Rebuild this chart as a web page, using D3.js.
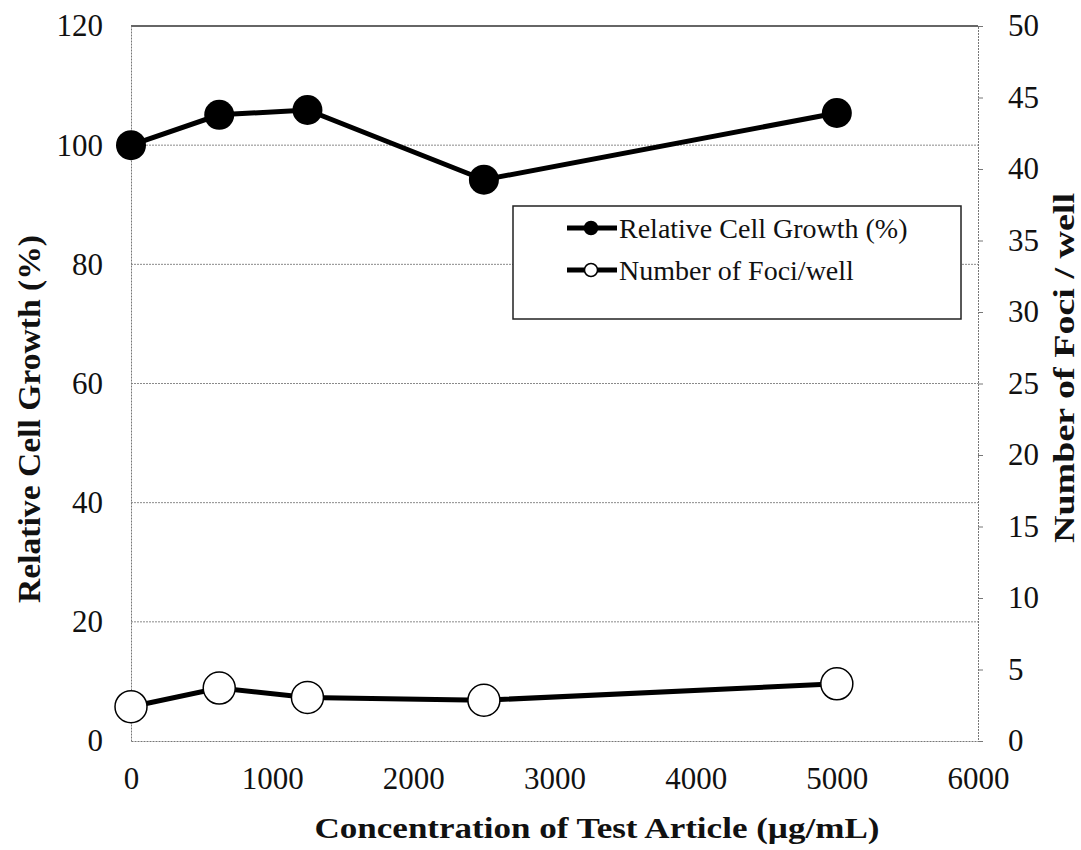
<!DOCTYPE html>
<html>
<head>
<meta charset="utf-8">
<script src="https://cdn.jsdelivr.net/npm/d3@7"></script>
<style>
  html, body { margin: 0; padding: 0; background: #fff; overflow: hidden; }
  svg { display: block; }
</style>
</head>
<body>
<div id="chart"></div>
<script>
// Data
var concentrations = [0, 625, 1250, 2500, 5000];
var growthValues = [100, 105.1, 105.9, 94.2, 105.4];
var fociValues = [2.4, 3.7, 3.05, 2.85, 4.0];
var xTicks = [0, 1000, 2000, 3000, 4000, 5000, 6000];
var leftTicks = [0, 20, 40, 60, 80, 100, 120];
var rightTicks = [0, 5, 10, 15, 20, 25, 30, 35, 40, 45, 50];
var seriesNames = ["Relative Cell Growth (%)", "Number of Foci/well"];

var serif = "'Liberation Serif', 'Times New Roman', serif";

// Chart size
var width = 1081;
var height = 850;
var margin = { top: 26, right: 103, bottom: 109, left: 131 };
var innerWidth = width - margin.left - margin.right;
var innerHeight = height - margin.top - margin.bottom;

var svg = d3.select("#chart")
  .append("svg")
  .attr("width", width)
  .attr("height", height)
  .attr("font-family", serif);

var chartGroup = svg.append("g")
  .attr("transform", "translate(" + margin.left + "," + margin.top + ")");

// Scales
var xScale = d3.scaleLinear().domain([0, 6000]).range([0, innerWidth]);
var yLeft = d3.scaleLinear().domain([0, 120]).range([innerHeight, 0]);
var yRight = d3.scaleLinear().domain([0, 50]).range([innerHeight, 0]);

// Gridlines
chartGroup.append("g")
  .selectAll("line")
  .data(leftTicks.filter(function (d) { return d > 0 && d < 120; }))
  .enter().append("line")
  .attr("x1", 0).attr("x2", innerWidth)
  .attr("y1", function (d) { return yLeft(d); })
  .attr("y2", function (d) { return yLeft(d); })
  .attr("stroke", "#8a8a8a")
  .attr("stroke-width", 1)
  .attr("stroke-dasharray", "2,1");

// Top border
chartGroup.append("line")
  .attr("x1", 0).attr("x2", innerWidth)
  .attr("y1", 0).attr("y2", 0)
  .attr("stroke", "#333").attr("stroke-width", 1.5);

function styleAxis(g) {
  g.attr("font-family", serif).attr("font-size", 31);
  g.select(".domain").attr("stroke", "#777").attr("stroke-dasharray", "2,1");
  g.selectAll(".tick line").attr("stroke", "#777");
  g.selectAll("text").attr("fill", "#111");
}

// Left axis
chartGroup.append("g")
  .call(d3.axisLeft(yLeft).tickValues(leftTicks).tickSize(0).tickPadding(28))
  .call(styleAxis);

// Bottom axis
chartGroup.append("g")
  .attr("transform", "translate(0," + innerHeight + ")")
  .call(d3.axisBottom(xScale).tickValues(xTicks).tickFormat(d3.format("d")).tickSize(0).tickPadding(26))
  .call(styleAxis);

// Right axis
chartGroup.append("g")
  .attr("transform", "translate(" + innerWidth + ",0)")
  .call(d3.axisRight(yRight).tickValues(rightTicks).tickSize(5).tickPadding(25))
  .call(styleAxis);

// Series data
var growthData = concentrations.map(function (c, i) { return { x: c, y: growthValues[i] }; });
var fociData = concentrations.map(function (c, i) { return { x: c, y: fociValues[i] }; });

// Growth series
chartGroup.append("path")
  .datum(growthData)
  .attr("fill", "none")
  .attr("stroke", "#000")
  .attr("stroke-width", 5)
  .attr("d", d3.line()
    .x(function (d) { return xScale(d.x); })
    .y(function (d) { return yLeft(d.y); }));

chartGroup.append("g")
  .selectAll("circle")
  .data(growthData)
  .enter().append("circle")
  .attr("cx", function (d) { return xScale(d.x); })
  .attr("cy", function (d) { return yLeft(d.y); })
  .attr("r", 15)
  .attr("fill", "#000");

// Foci series
chartGroup.append("path")
  .datum(fociData)
  .attr("fill", "none")
  .attr("stroke", "#000")
  .attr("stroke-width", 5)
  .attr("d", d3.line()
    .x(function (d) { return xScale(d.x); })
    .y(function (d) { return yRight(d.y); }));

chartGroup.append("g")
  .selectAll("circle")
  .data(fociData)
  .enter().append("circle")
  .attr("cx", function (d) { return xScale(d.x); })
  .attr("cy", function (d) { return yRight(d.y); })
  .attr("r", 16)
  .attr("fill", "#fff")
  .attr("stroke", "#000")
  .attr("stroke-width", 1.5);

// Legend
var legend = svg.append("g").attr("transform", "translate(513,206)");
legend.append("rect")
  .attr("width", 448).attr("height", 113)
  .attr("fill", "#fff").attr("stroke", "#222").attr("stroke-width", 1.5);

seriesNames.forEach(function (name, i) {
  var row = legend.append("g").attr("transform", "translate(0," + (22 + i * 42) + ")");
  row.append("line")
    .attr("x1", 54).attr("x2", 104)
    .attr("stroke", "#000").attr("stroke-width", 5);
  row.append("circle")
    .attr("cx", 78).attr("r", 6.5)
    .attr("fill", i === 0 ? "#000" : "#fff")
    .attr("stroke", "#000").attr("stroke-width", 1.5);
  row.append("text")
    .attr("x", 106).attr("dy", "0.35em")
    .attr("font-size", 28)
    .attr("fill", "#111")
    .text(name);
});

// Axis titles
svg.append("text")
  .attr("x", 597)
  .attr("y", 838)
  .attr("text-anchor", "middle")
  .attr("font-size", 30).attr("font-weight", "bold").attr("fill", "#111")
  .attr("textLength", 565).attr("lengthAdjust", "spacingAndGlyphs")
  .text("Concentration of Test Article (µg/mL)");

svg.append("text")
  .attr("transform", "translate(40,419) rotate(-90)")
  .attr("text-anchor", "middle")
  .attr("font-size", 31).attr("font-weight", "bold").attr("fill", "#111")
  .attr("textLength", 368).attr("lengthAdjust", "spacingAndGlyphs")
  .text("Relative Cell Growth (%)");

svg.append("text")
  .attr("transform", "translate(1074,368) rotate(-90)")
  .attr("text-anchor", "middle")
  .attr("font-size", 30).attr("font-weight", "bold").attr("fill", "#111")
  .attr("textLength", 350).attr("lengthAdjust", "spacingAndGlyphs")
  .text("Number of Foci / well");
</script>
</body>
</html>
